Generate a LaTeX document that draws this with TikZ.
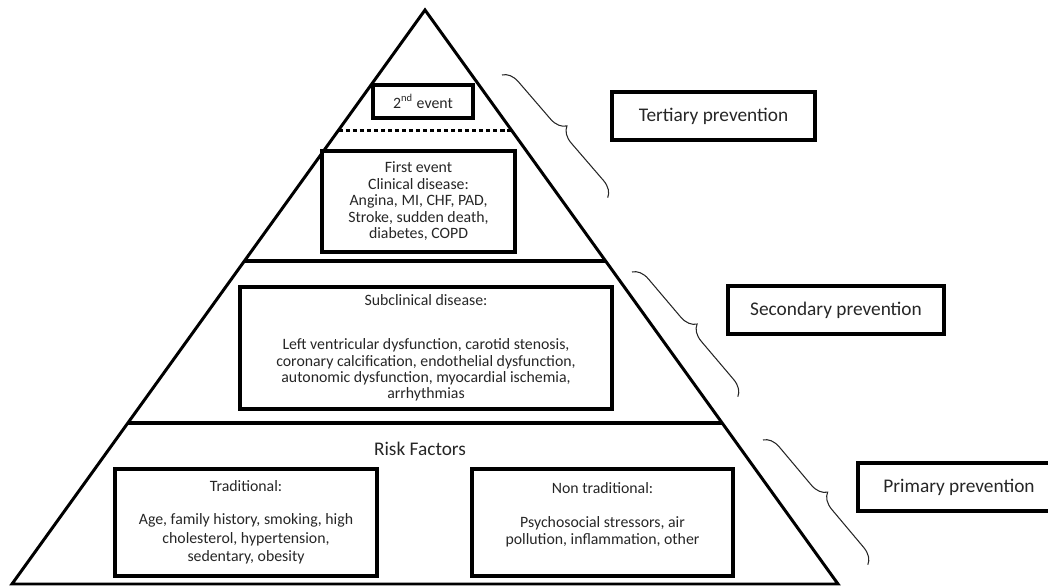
\documentclass[tikz,border=0pt]{standalone}
\usepackage{fontspec}
\setmainfont{Carlito}
\usetikzlibrary{calc,decorations.pathreplacing}

\tikzset{
	boxnode/.style={draw, line width=2.4pt, inner sep=0pt, align=center, text=black!85},
	prevbox/.style={boxnode, minimum height=0.96cm, font=\fontsize{11}{13}\selectfont},
	bracebar/.style={decorate, decoration={brace, amplitude=0.32cm}, line width=0.6pt, color=black!85},
}

\begin{document}
\begin{tikzpicture}[x=0.02cm, y=-0.02cm]
			%%%%% START %%%%%
			
			\clip (0, 0) rectangle (1048, 587);
			
			\coordinate (apex) at (425, 10);
			\coordinate (bl) at (12, 584);
			\coordinate (br) at (838, 584);
			
			\draw[line width=1.7pt] (apex) -- (bl) -- (br) -- cycle;
			
			\draw[line width=1.7pt, dash pattern=on 2.4pt off 1.6pt] ($(apex)!0.2091!(bl)$) -- ($(apex)!0.2091!(br)$);
			\draw[line width=1.8pt] ($(apex)!0.4373!(bl)$) -- ($(apex)!0.4373!(br)$);
			\draw[line width=1.8pt] ($(apex)!0.7195!(bl)$) -- ($(apex)!0.7195!(br)$);
			
			\node[boxnode, minimum width=2cm, minimum height=0.66cm, font=\fontsize{9}{10}\selectfont] (evtwo) at (423, 101.5) {2\textsuperscript{nd} event};
			
			\node[boxnode, minimum width=3.86cm, minimum height=2.02cm, font=\fontsize{9}{9.4}\selectfont] (evone) at (418.5, 201.5) {First event\\Clinical disease:\\Angina, MI, CHF, PAD,\\Stroke, sudden death,\\diabetes, COPD};
			
			\node[boxnode, minimum width=7.44cm, minimum height=2.44cm, font=\fontsize{9}{9.3}\selectfont] (subclin) at (426, 348) {Subclinical disease:\\[16pt]Left ventricular dysfunction, carotid stenosis,\\coronary calcification, endothelial dysfunction,\\autonomic dysfunction, myocardial ischemia,\\arrhythmias};
			
			\node[font=\fontsize{11}{13}\selectfont, text=black!85] (risk) at (420, 449) {Risk Factors};
			
			\node[boxnode, minimum width=5.24cm, minimum height=2.14cm, font=\fontsize{9}{10.5}\selectfont] (trad) at (246, 522.5) {Traditional:\\[8.5pt]Age, family history, smoking, high\\cholesterol, hypertension,\\sedentary, obesity};
			\node[boxnode, minimum width=5.22cm, minimum height=2.14cm, font=\fontsize{9}{9.8}\selectfont] (nontrad) at (602.5, 522.5) {Non traditional:\\[9.5pt]Psychosocial stressors, air\\pollution, inflammation, other\\\mbox{}};
			
			\node[prevbox, minimum width=4.06cm] (tert) at (713.5, 116) {Tertiary prevention};
			\node[prevbox, minimum width=4.32cm] (sec) at (836, 310) {Secondary prevention};
			\node[prevbox, minimum width=4.04cm] (prim) at (959, 487) {Primary prevention};
			
			\coordinate (tertA) at (502, 75);
			\coordinate (tertB) at (608, 198);
			\coordinate (secA) at (632, 272);
			\coordinate (secB) at (738, 397);
			\coordinate (primA) at (763, 440);
			\coordinate (primB) at (868, 565);
			
			\draw[bracebar] (tertA) -- (tertB);
			\draw[bracebar] (secA) -- (secB);
			\draw[bracebar] (primA) -- (primB);
			
			%%%%% END %%%%%
\end{tikzpicture}
\end{document}
